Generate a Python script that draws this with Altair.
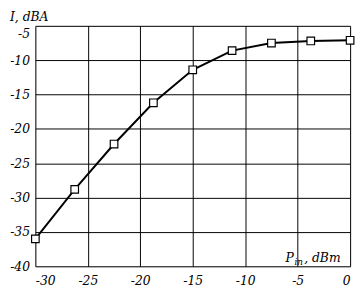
import altair as alt
import pandas as pd

p_in = [-30, -26.25, -22.5, -18.75, -15, -11.25, -7.5, -3.75, 0]
level = [-36.0, -28.8, -22.2, -16.2, -11.4, -8.6, -7.5, -7.2, -7.1]
x_ticks = [-30, -25, -20, -15, -10, -5, 0]
y_ticks = [-40, -35, -30, -25, -20, -15, -10, -5]

df = pd.DataFrame({"p": p_in, "i": level})

W, H = 322, 246
FONT = "DejaVu Serif Condensed, DejaVu Serif"

x_enc = alt.X("p:Q", scale=alt.Scale(domain=[-30, 0], nice=False),
              axis=alt.Axis(values=x_ticks, title=None, grid=True, gridColor="black",
                            gridWidth=1, gridOpacity=1, domain=False, ticks=False,
                            labelFont=FONT, labelFontStyle="italic", labelFontSize=14,
                            labelColor="black", labelPadding=8,
                            labelExpr="datum.value + ''"))
y_enc = alt.Y("i:Q", scale=alt.Scale(domain=[-40, -5], nice=False),
              axis=alt.Axis(values=y_ticks, title=None, grid=True, gridColor="black",
                            gridWidth=1, gridOpacity=1, domain=False, ticks=False,
                            labelFont=FONT, labelFontStyle="italic", labelFontSize=14,
                            labelColor="black", labelPadding=6,
                            labelOffset={"expr": "datum.value == -5 ? 8 : 0"},
                            labelExpr="datum.value + ''"))

base = alt.Chart(df).encode(x=x_enc, y=y_enc)
line = base.mark_line(color="black", strokeWidth=2)
pts = base.mark_point(shape="square", filled=True, fill="white", stroke="black",
                      strokeWidth=1.2, size=60, opacity=1)

def label(txt, x, y, size=14):
    return alt.Chart(pd.DataFrame({"t": [txt]})).mark_text(
        font=FONT, fontStyle="italic", fontSize=size, color="black",
        align="left", baseline="alphabetic").encode(
        text="t:N", x=alt.value(x), y=alt.value(y))

t1 = label("I, dBA", -26, -5)
t2 = label("P", W - 66, H - 4)
t3 = label("in", W - 57, H - 1, 10)
t4 = label(", dBm", W - 47, H - 4)

chart = alt.layer(line, pts, t1, t2, t3, t4).properties(
    width=W, height=H,
    autosize=alt.AutoSizeParams(type="none"),
    padding={"left": 28, "top": 15, "right": 5, "bottom": 22},
).configure_view(stroke="black", strokeWidth=3).configure(background="white")

chart.save("out.html", embed_options={"renderer": "svg", "actions": False})
